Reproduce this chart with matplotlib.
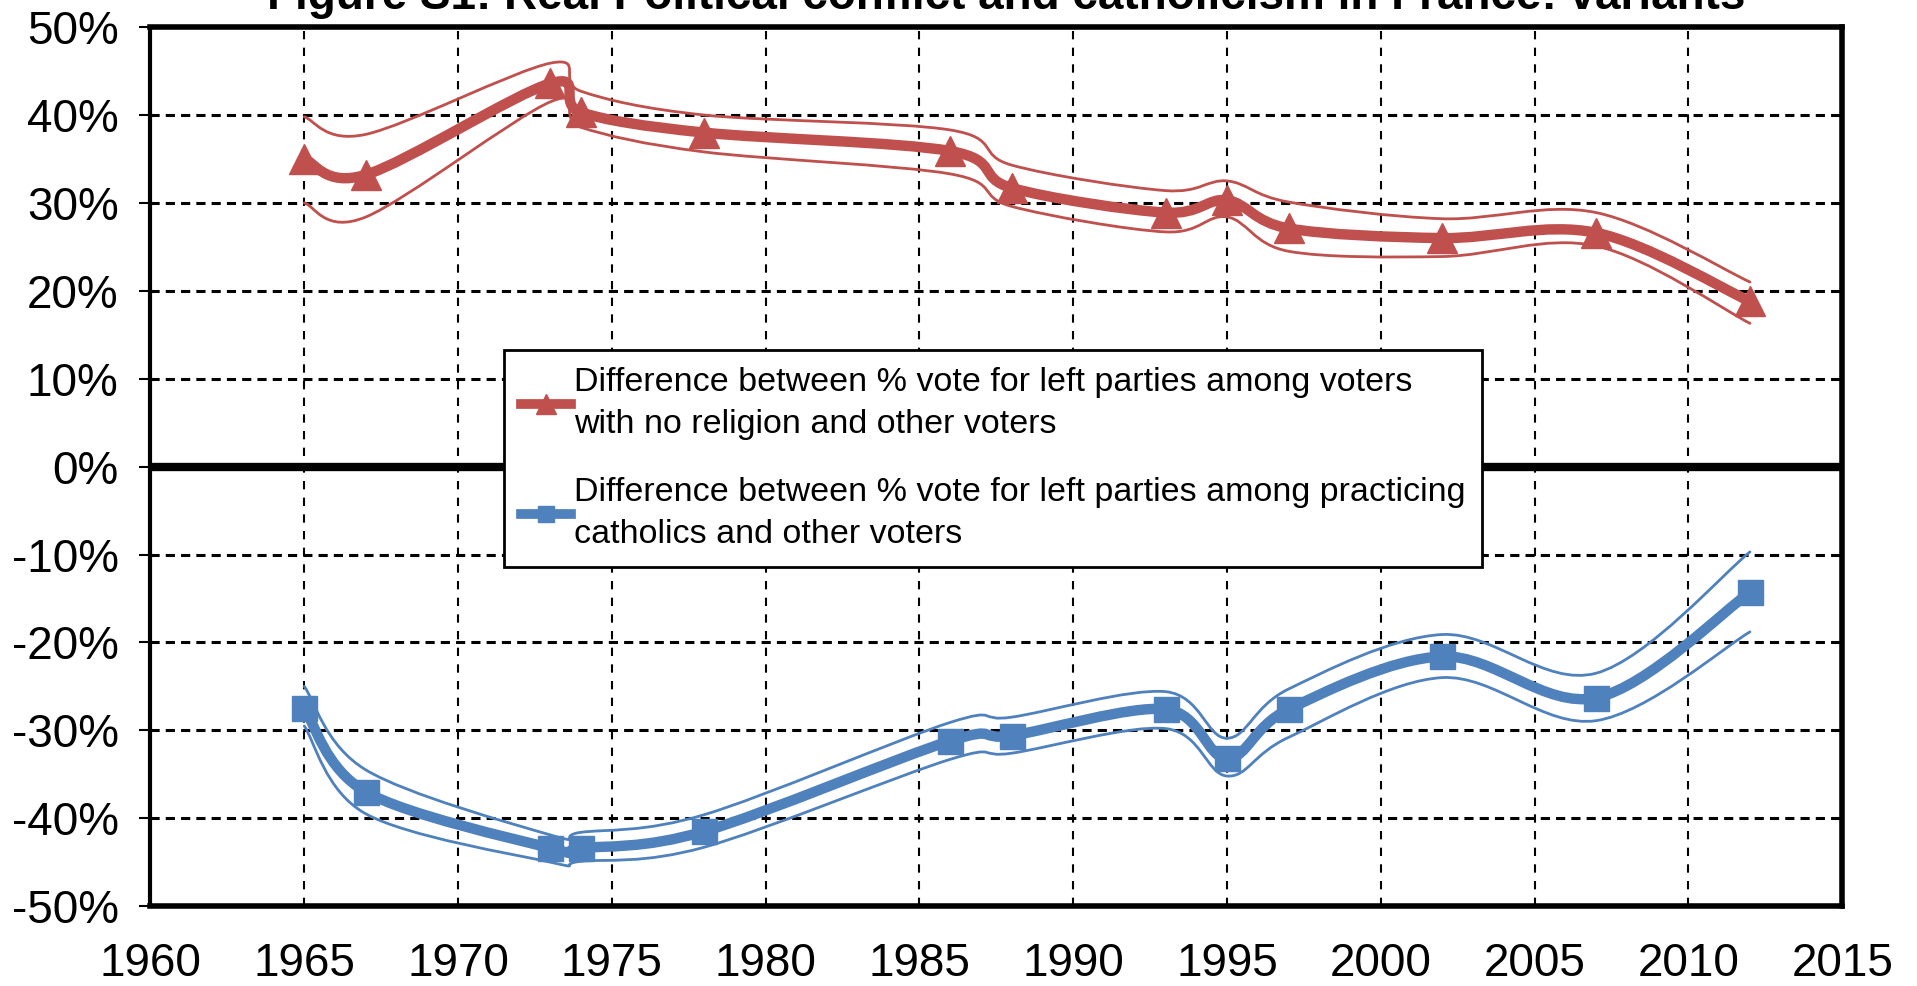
import matplotlib
matplotlib.use("Agg")
import matplotlib.pyplot as plt
from matplotlib.path import Path
from matplotlib.patches import PathPatch
from matplotlib.lines import Line2D
from matplotlib.ticker import FuncFormatter, MultipleLocator

plt.rcParams['font.family'] = ['Liberation Sans', 'DejaVu Sans']

# data (percent)
years = [1965, 1967, 1973, 1974, 1978, 1986, 1988, 1993, 1995, 1997, 2002, 2007, 2012]

norel = [35.0, 33.2, 43.6, 40.3, 38.0, 35.9, 31.7, 28.9, 30.3, 27.1, 26.0, 26.6, 18.8]
norel_hi = [39.8, 37.8, 45.9, 42.7, 40.0, 38.3, 34.3, 31.4, 32.5, 30.1, 28.2, 28.9, 21.0]
norel_lo = [30.0, 28.4, 41.5, 38.6, 35.8, 33.3, 29.6, 26.7, 28.4, 24.5, 23.9, 25.1, 16.3]

cath = [-27.5, -37.0, -43.4, -43.4, -41.5, -31.2, -30.6, -27.6, -33.2, -27.6, -21.6, -26.3, -14.3]
cath_hi = [-25.0, -34.5, -41.9, -41.6, -39.6, -29.1, -28.5, -25.6, -30.9, -25.3, -19.1, -23.5, -9.7]
cath_lo = [-29.5, -39.5, -45.0, -44.9, -43.3, -33.3, -32.6, -29.8, -35.2, -30.8, -24.0, -28.9, -18.8]

label_norel = "Difference between % vote for left parties among voters\nwith no religion and other voters"
label_cath = "Difference between % vote for left parties among practicing\ncatholics and other voters"
title = "Figure S1: Real Political conflict and catholicism in France: variants"

red = '#C0504D'
blue = '#4F81BD'


def smooth_path(x, y):
    # excel-like smoothed line: cubic bezier through the points
    verts = [(x[0], y[0])]
    codes = [Path.MOVETO]
    n = len(x)
    for i in range(n - 1):
        x0, y0 = (x[i - 1], y[i - 1]) if i > 0 else (x[i], y[i])
        x3, y3 = (x[i + 2], y[i + 2]) if i + 2 < n else (x[i + 1], y[i + 1])
        c1 = (x[i] + (x[i + 1] - x0) / 6.0, y[i] + (y[i + 1] - y0) / 6.0)
        c2 = (x[i + 1] - (x3 - x[i]) / 6.0, y[i + 1] - (y3 - y[i]) / 6.0)
        verts += [c1, c2, (x[i + 1], y[i + 1])]
        codes += [Path.CURVE4] * 3
    return Path(verts, codes)


def draw_line(ax, x, y, color, lw):
    p = PathPatch(smooth_path(x, y), facecolor='none', edgecolor=color,
                  lw=lw, capstyle='round', joinstyle='round', zorder=3)
    ax.add_patch(p)


fig = plt.figure(figsize=(19.17, 9.86), dpi=100)
ax = fig.add_axes([0.0785, 0.081, 0.8825, 0.8915])

for hi, lo, mid, col in [(norel_hi, norel_lo, norel, red), (cath_hi, cath_lo, cath, blue)]:
    draw_line(ax, years, hi, col, 2.0)
    draw_line(ax, years, lo, col, 2.0)
    draw_line(ax, years, mid, col, 7.5)

ax.plot(years, norel, linestyle='none', marker='^', ms=21, color=red, zorder=4)
ax.plot(years, cath, linestyle='none', marker='s', ms=18, color=blue, zorder=4)

ax.set_xlim(1960, 2015)
ax.set_ylim(-50, 50)
ax.xaxis.set_major_locator(MultipleLocator(5))
ax.yaxis.set_major_locator(MultipleLocator(10))
ax.yaxis.set_major_formatter(FuncFormatter(lambda v, p: '%d%%' % round(v)))

ax.xaxis.grid(True, color='black', linestyle=(0, (4, 4)), lw=1.5)
ax.yaxis.grid(True, color='black', linestyle=(0, (3, 2)), lw=2.2)
ax.set_axisbelow(True)
ax.axhline(0, color='black', lw=6, zorder=2)

for s in ax.spines.values():
    s.set_linewidth(4)
ax.spines['left'].set_linewidth(3)

ax.tick_params(axis='y', labelsize=33, length=8, width=1.5, pad=15)
ax.tick_params(axis='x', labelsize=33, length=0, pad=26)

fig.text(0.525, 0.991, title, fontsize=33, fontweight='bold',
         ha='center', va='baseline')

h1 = Line2D([], [], color=red, lw=7, marker='^', ms=14)
h2 = Line2D([], [], color=blue, lw=7, marker='s', ms=12)
leg = ax.legend([h1, h2], [label_norel, label_cath], loc='upper left',
                bbox_to_anchor=(0.263, 0.645), bbox_transform=fig.transFigure,
                fontsize=24.5, frameon=True, fancybox=False, framealpha=1,
                borderpad=0.5, handlelength=1.45, handletextpad=0.1,
                labelspacing=1.1, borderaxespad=0)
for t in leg.get_texts():
    t.set_linespacing(1.45)
leg.get_frame().set_edgecolor('black')
leg.get_frame().set_linewidth(2)
leg.set_zorder(5)

fig.savefig('out.png', dpi=100)
